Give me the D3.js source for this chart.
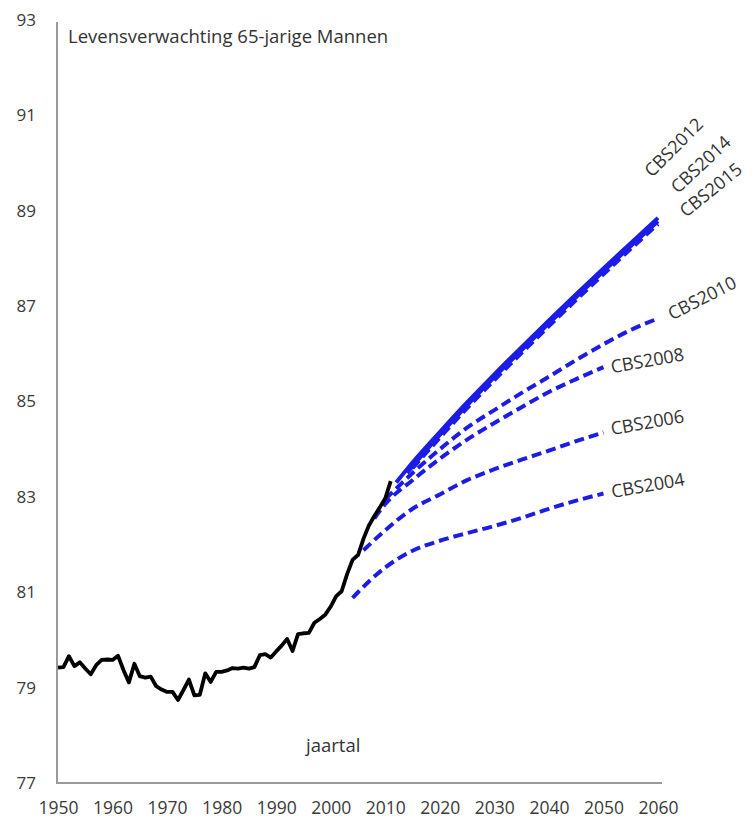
<!DOCTYPE html>
<html>
<head>
<meta charset="utf-8">
<script src="https://cdnjs.cloudflare.com/ajax/libs/d3/7.8.5/d3.min.js"></script>
<style>
  body { margin: 0; background: #fff; }
  svg { display: block; font-family: "Open Sans", sans-serif; }
</style>
</head>
<body>
<div id="chart"></div>
<script>
// ========================
// Data
// ========================
const histYears = [
  1950, 1951, 1952, 1953, 1954, 1955, 1956, 1957, 1958, 1959,
  1960, 1961, 1962, 1963, 1964, 1965, 1966, 1967, 1968, 1969,
  1970, 1971, 1972, 1973, 1974, 1975, 1976, 1977, 1978, 1979,
  1980, 1981, 1982, 1983, 1984, 1985, 1986, 1987, 1988, 1989,
  1990, 1991, 1992, 1993, 1994, 1995, 1996, 1997, 1998, 1999,
  2000, 2001, 2002, 2003, 2004, 2005, 2006, 2007, 2008, 2009,
  2010, 2011
];
const histValues = [
  79.42, 79.43, 79.66, 79.45, 79.53, 79.40, 79.28, 79.47, 79.58, 79.59,
  79.58, 79.67, 79.37, 79.11, 79.50, 79.24, 79.21, 79.23, 79.03, 78.96,
  78.91, 78.91, 78.74, 78.95, 79.17, 78.84, 78.85, 79.30, 79.12, 79.33,
  79.33, 79.36, 79.41, 79.40, 79.42, 79.40, 79.43, 79.68, 79.70, 79.63,
  79.76, 79.88, 80.02, 79.77, 80.12, 80.14, 80.15, 80.36, 80.44, 80.53,
  80.70, 80.92, 81.02, 81.38, 81.68, 81.78, 82.12, 82.40, 82.60, 82.78,
  82.97, 83.33
];

const cbs2004Years  = [2004, 2005, 2010, 2015, 2020, 2025, 2030, 2035, 2040, 2045, 2050];
const cbs2004Values = [80.88, 81.00, 81.52, 81.87, 82.08, 82.24, 82.39, 82.56, 82.75, 82.92, 83.07];

const cbs2006Years  = [2006, 2010, 2015, 2020, 2025, 2030, 2035, 2040, 2045, 2050];
const cbs2006Values = [81.88, 82.30, 82.75, 83.05, 83.35, 83.58, 83.78, 83.97, 84.17, 84.35];

const cbs2008Years  = [2008, 2010, 2015, 2020, 2025, 2030, 2035, 2040, 2045, 2050];
const cbs2008Values = [82.55, 82.85, 83.35, 83.80, 84.20, 84.55, 84.88, 85.20, 85.47, 85.72];

const cbs2010Years  = [2010, 2015, 2020, 2025, 2030, 2035, 2040, 2045, 2050, 2055, 2060];
const cbs2010Values = [82.95, 83.50, 84.00, 84.45, 84.82, 85.18, 85.52, 85.87, 86.20, 86.50, 86.74];

const cbs2012Years  = [2012, 2015, 2020, 2025, 2030, 2035, 2040, 2045, 2050, 2055, 2060];
const cbs2012Values = [83.30, 83.72, 84.36, 84.98, 85.57, 86.14, 86.70, 87.25, 87.79, 88.32, 88.85];

const cbs2014Years  = [2014, 2015, 2020, 2025, 2030, 2035, 2040, 2045, 2050, 2055, 2060];
const cbs2014Values = [83.50, 83.64, 84.30, 84.92, 85.51, 86.08, 86.64, 87.19, 87.73, 88.26, 88.78];

const cbs2015Years  = [2015, 2020, 2025, 2030, 2035, 2040, 2045, 2050, 2055, 2060];
const cbs2015Values = [83.60, 84.24, 84.86, 85.45, 86.02, 86.58, 87.13, 87.67, 88.20, 88.72];

const projNames = ["CBS2004", "CBS2006", "CBS2008", "CBS2010", "CBS2012", "CBS2014", "CBS2015"];
const projYears = [cbs2004Years, cbs2006Years, cbs2008Years, cbs2010Years, cbs2012Years, cbs2014Years, cbs2015Years];
const projValues = [cbs2004Values, cbs2006Values, cbs2008Values, cbs2010Values, cbs2012Values, cbs2014Values, cbs2015Values];

const yTicks = [77, 79, 81, 83, 85, 87, 89, 91, 93];
const xTicks = [1950, 1960, 1970, 1980, 1990, 2000, 2010, 2020, 2030, 2040, 2050, 2060];

const titleText = "Levensverwachting 65-jarige Mannen";
const xTitle = "jaartal";

// ========================
// Layout
// ========================
const width = 754;
const height = 819;
const blue = "#1c1ce6";

// label placement relative to the end of each line
const labelLayout = {
  CBS2004: { dx: 9,   dy: 4.5, angle: -10 },
  CBS2006: { dx: 8.5, dy: 2.6, angle: -10 },
  CBS2008: { dx: 8.5, dy: 6,   angle: -10 },
  CBS2010: { dx: 14,  dy: 2,   angle: -27 },
  CBS2012: { dx: -6,  dy: -40, angle: -45 },
  CBS2014: { dx: 20,  dy: -27, angle: -43 },
  CBS2015: { dx: 28,  dy: -6,  angle: -39 }
};
// the three newest forecasts overlap into one thick band
const dashStyle = {
  CBS2004: "10,5", CBS2006: "10,5", CBS2008: "10,5", CBS2010: "10,5",
  CBS2012: null, CBS2014: null, CBS2015: "10,5"
};

const x = d3.scaleLinear().domain([1950, 2060]).range([58, 658]);
const y = d3.scaleLinear().domain([77, 93]).range([783, 20]);

const svg = d3.select("#chart")
  .append("svg")
  .attr("width", width)
  .attr("height", height);

svg.append("rect")
  .attr("width", width)
  .attr("height", height)
  .attr("fill", "#fff");

// Axes
const yAxis = svg.append("g")
  .attr("transform", `translate(${x.range()[0] - 1},0)`)
  .call(d3.axisLeft(y).tickValues(yTicks).tickSize(0).tickPadding(21));
yAxis.select(".domain").remove();
yAxis.selectAll(".tick text").attr("font-size", 17);

const xAxis = svg.append("g")
  .attr("transform", `translate(0,${y(77)})`)
  .call(d3.axisBottom(x).tickValues(xTicks).tickFormat(d3.format("d")).tickSize(0).tickPadding(19));
xAxis.select(".domain").remove();
xAxis.selectAll(".tick text").attr("font-size", 17.5);

svg.selectAll(".tick text")
  .attr("font-family", "Open Sans, sans-serif")
  .attr("fill", "#3a3a3a");

svg.append("line")
  .attr("x1", x.range()[0] - 1).attr("x2", x.range()[0] - 1)
  .attr("y1", y(77)).attr("y2", y(93) + 2)
  .attr("stroke", "#9a9a9a").attr("stroke-width", 2);

svg.append("line")
  .attr("x1", x.range()[0] - 2).attr("x2", x(2060) + 4)
  .attr("y1", y(77)).attr("y2", y(77))
  .attr("stroke", "#9a9a9a").attr("stroke-width", 2);

// Projections
const projLine = d3.line()
  .x(d => x(d[0]))
  .y(d => y(d[1]))
  .curve(d3.curveMonotoneX);

projNames.forEach((name, i) => {
  const pts = projYears[i].map((yr, j) => [yr, projValues[i][j]]);
  svg.append("path")
    .datum(pts)
    .attr("fill", "none")
    .attr("stroke", blue)
    .attr("stroke-width", 4)
    .attr("stroke-dasharray", dashStyle[name])
    .attr("d", projLine);

  const last = pts[pts.length - 1];
  const lay = labelLayout[name];
  svg.append("text")
    .attr("transform", `translate(${x(last[0]) + lay.dx},${y(last[1]) + lay.dy}) rotate(${lay.angle})`)
    .attr("font-size", 18)
    .attr("fill", "#333")
    .text(name);
});

// Observed
const histLine = d3.line()
  .x((d, i) => x(histYears[i]))
  .y(d => y(d));

svg.append("path")
  .datum(histValues)
  .attr("fill", "none")
  .attr("stroke", "#000")
  .attr("stroke-width", 3.8)
  .attr("stroke-linejoin", "round")
  .attr("d", histLine);

// Texts
svg.append("text")
  .attr("x", 68)
  .attr("y", 43)
  .attr("font-size", 18.5)
  .attr("fill", "#333")
  .text(titleText);

svg.append("text")
  .attr("x", 306)
  .attr("y", 752)
  .attr("font-size", 18.5)
  .attr("fill", "#333")
  .text(xTitle);
</script>
</body>
</html>
